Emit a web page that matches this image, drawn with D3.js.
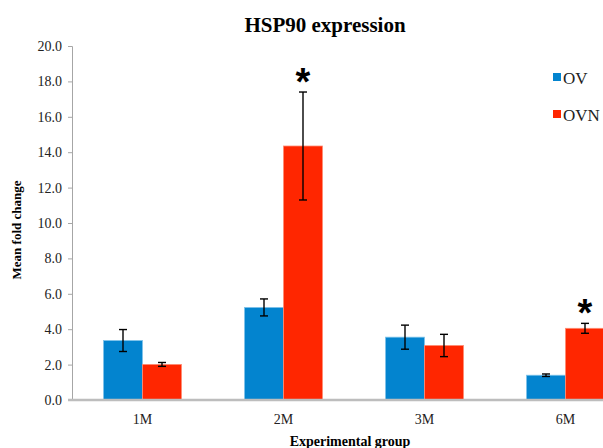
<!DOCTYPE html>
<html>
<head>
<meta charset="utf-8">
<script src="https://cdn.jsdelivr.net/npm/d3@7"></script>
<style>
  body { margin: 0; background: #fff; }
  svg { display: block; }
</style>
</head>
<body>
<div id="chart"></div>
<script>
// data
var groups = ["1M", "2M", "3M", "6M"];
var seriesNames = ["OV", "OVN"];
var ovMeans = [3.36, 5.23, 3.55, 1.40];
var ovErrors = [0.62, 0.48, 0.68, 0.07];
var ovnMeans = [2.01, 14.35, 3.08, 4.05];
var ovnErrors = [0.11, 3.05, 0.63, 0.28];
var significant = [false, true, false, true]; // asterisk over OVN
var yTicks = [0, 2, 4, 6, 8, 10, 12, 14, 16, 18, 20];

var colors = { OV: "#0384cf", OVN: "#ff2600" };

var width = 603, height = 448;
var plotLeft = 72, plotBottom = 400, plotTop = 46;

var svg = d3.select("#chart").append("svg")
    .attr("width", width)
    .attr("height", height);

var x = d3.scaleBand()
    .domain(groups)
    .range([plotLeft, plotLeft + 4 * 141])
    .paddingInner(0)
    .paddingOuter(0);

var inner = d3.scaleBand()
    .domain(seriesNames)
    .range([31.5, x.bandwidth() - 31.5]);

var y = d3.scaleLinear()
    .domain([0, 20])
    .range([plotBottom, plotTop]);

var rows = groups.map(function (g, i) {
    return [
        { group: g, name: "OV", mean: ovMeans[i], err: ovErrors[i], star: false },
        { group: g, name: "OVN", mean: ovnMeans[i], err: ovnErrors[i], star: significant[i] }
    ];
});
var flat = [].concat.apply([], rows);

// title
svg.append("text")
    .attr("x", 325)
    .attr("y", 32)
    .attr("text-anchor", "middle")
    .style("font-family", "'Liberation Serif', 'Times New Roman', serif")
    .style("font-weight", "bold")
    .style("font-size", "21px")
    .text("HSP90 expression");

// y axis
var yAxis = svg.append("g")
    .attr("transform", "translate(" + plotLeft + ",0)")
    .call(d3.axisLeft(y).tickValues(yTicks).tickSize(4).tickFormat(d3.format(".1f")));
yAxis.selectAll("path, line").attr("stroke", "#a6a6a6");
yAxis.selectAll("text")
    .attr("x", -10)
    .style("font-family", "'Liberation Serif', 'Times New Roman', serif")
    .style("font-size", "14px")
    .style("fill", "#222");

// bars
svg.selectAll(".bar")
    .data(flat)
    .enter().append("rect")
    .attr("class", "bar")
    .attr("x", function (d) { return x(d.group) + inner(d.name); })
    .attr("y", function (d) { return y(d.mean); })
    .attr("width", inner.bandwidth())
    .attr("height", function (d) { return y(0) - y(d.mean); })
    .style("fill", function (d) { return colors[d.name]; })
    .style("stroke", function (d) { return d.name == "OV" ? "#7fc3ea" : "#ff8c73"; })
    .style("stroke-width", 0.8);

// x axis
var xAxis = svg.append("g")
    .attr("transform", "translate(0," + plotBottom + ")")
    .call(d3.axisBottom(x).tickSize(0).tickPadding(14));
xAxis.select("path").attr("stroke", "#bdbdbd").attr("stroke-width", 2.5)
    .attr("d", "M" + (plotLeft - 4) + ",0H" + width);
xAxis.selectAll("text")
    .style("font-family", "'Liberation Serif', 'Times New Roman', serif")
    .style("font-size", "14px")
    .style("fill", "#222");

// error bars
var cx = function (d) { return x(d.group) + inner(d.name) + inner.bandwidth() / 2; };
var errs = svg.selectAll(".err")
    .data(flat)
    .enter().append("g")
    .attr("class", "err")
    .attr("stroke", "#000")
    .attr("stroke-width", 1.4);
errs.append("line")
    .attr("x1", cx).attr("x2", cx)
    .attr("y1", function (d) { return y(d.mean + d.err); })
    .attr("y2", function (d) { return y(d.mean - d.err); });
errs.append("line")
    .attr("x1", function (d) { return cx(d) - 4; })
    .attr("x2", function (d) { return cx(d) + 4; })
    .attr("y1", function (d) { return y(d.mean + d.err); })
    .attr("y2", function (d) { return y(d.mean + d.err); });
errs.append("line")
    .attr("x1", function (d) { return cx(d) - 4; })
    .attr("x2", function (d) { return cx(d) + 4; })
    .attr("y1", function (d) { return y(d.mean - d.err); })
    .attr("y2", function (d) { return y(d.mean - d.err); });

// significance stars
svg.selectAll(".star")
    .data(flat.filter(function (d) { return d.star; }))
    .enter().append("text")
    .attr("class", "star")
    .attr("x", cx)
    .attr("y", function (d) { return y(d.mean + d.err) + 3; })
    .attr("text-anchor", "middle")
    .style("font-family", "'Liberation Sans', Arial, sans-serif")
    .style("font-weight", "bold")
    .style("font-size", "38px")
    .text("*");

// legend
var legend = svg.selectAll(".legend")
    .data(seriesNames)
    .enter().append("g")
    .attr("class", "legend")
    .attr("transform", function (d, i) { return "translate(553," + (73 + i * 37) + ")"; });
legend.append("rect")
    .attr("width", 8).attr("height", 8)
    .style("fill", function (d) { return colors[d]; });
legend.append("text")
    .attr("x", 10)
    .attr("y", 11)
    .style("font-family", "'Liberation Serif', 'Times New Roman', serif")
    .style("font-size", "17px")
    .style("fill", "#222")
    .text(function (d) { return d; });

// axis titles
svg.append("text")
    .attr("transform", "translate(21,230) rotate(-90)")
    .attr("text-anchor", "middle")
    .style("font-family", "'Liberation Serif', 'Times New Roman', serif")
    .style("font-weight", "bold")
    .style("font-size", "13px")
    .text("Mean fold change");

svg.append("text")
    .attr("x", 350)
    .attr("y", 446)
    .attr("text-anchor", "middle")
    .style("font-family", "'Liberation Serif', 'Times New Roman', serif")
    .style("font-weight", "bold")
    .style("font-size", "14px")
    .text("Experimental group");
</script>
</body>
</html>
